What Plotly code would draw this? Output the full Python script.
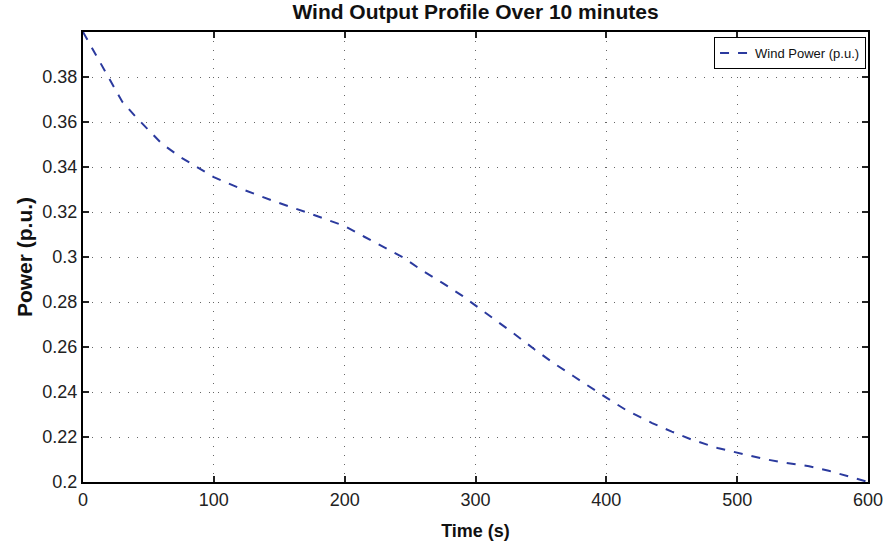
import plotly.graph_objects as go

time_s = [0, 10, 20, 30, 40, 50, 60, 75, 90, 100, 120, 145, 170, 200, 215, 230, 245,
          260, 275, 290, 300, 315, 330, 345, 360, 375, 390, 400, 415, 435, 450, 465,
          485, 500, 520, 535, 555, 570, 590, 600]
power_pu = [0.4000, 0.3898, 0.3795, 0.3690, 0.3625, 0.3565, 0.3505, 0.3442, 0.3390,
            0.3355, 0.3305, 0.3250, 0.3200, 0.3138, 0.3090, 0.3045, 0.2997, 0.2937,
            0.2884, 0.2827, 0.2785, 0.2720, 0.2657, 0.2590, 0.2527, 0.2470, 0.2412,
            0.2375, 0.2320, 0.2262, 0.2224, 0.2189, 0.2151, 0.2129, 0.2103, 0.2087,
            0.2070, 0.2050, 0.2015, 0.2000]
x_ticks = [0, 100, 200, 300, 400, 500, 600]
y_ticks = [0.2, 0.22, 0.24, 0.26, 0.28, 0.3, 0.32, 0.34, 0.36, 0.38]
y_tick_text = ["0.2", "0.22", "0.24", "0.26", "0.28", "0.3", "0.32", "0.34", "0.36", "0.38"]

FONT = "Liberation Sans, Arial, sans-serif"

fig = go.Figure()
fig.add_trace(go.Scatter(
    x=time_s, y=power_pu, mode="lines", name="Wind Power (p.u.)",
    line=dict(color="#2b3a9e", width=2, dash="dash"),
))

axis_common = dict(
    showline=True, linecolor="black", linewidth=2, mirror="ticks",
    ticks="inside", ticklen=6, tickwidth=1.5, tickcolor="#222",
    showgrid=True, gridcolor="#666", griddash="1px,8px", gridwidth=1,
    zeroline=False, tickfont=dict(family=FONT, size=18, color="#222"),
)

fig.update_layout(
    width=895, height=550,
    margin=dict(l=83, r=20, t=32, b=62),
    paper_bgcolor="white", plot_bgcolor="white",
    title=dict(text="<b>Wind Output Profile Over 10 minutes</b>", x=0.5, xanchor="center",
               xref="paper", y=0.978, yanchor="middle",
               font=dict(family=FONT, size=21, color="#111")),
    xaxis=dict(range=[0, 600], tickvals=x_ticks,
               title=dict(text="<b>Time (s)</b>", font=dict(family=FONT, size=18, color="#111"),
                          standoff=16),
               **axis_common),
    yaxis=dict(range=[0.2, 0.4], tickvals=y_ticks, ticktext=y_tick_text,
               title=dict(text="<b>Power (p.u.)</b>", font=dict(family=FONT, size=21, color="#111"),
                          standoff=4),
               **axis_common),
    showlegend=True,
    legend=dict(x=0.9975, y=0.989, xanchor="right", yanchor="top",
                bgcolor="white", bordercolor="black", borderwidth=1,
                font=dict(family=FONT, size=13, color="#111"),
                itemwidth=30, tracegroupgap=0),
)

fig.write_html("out.html")
